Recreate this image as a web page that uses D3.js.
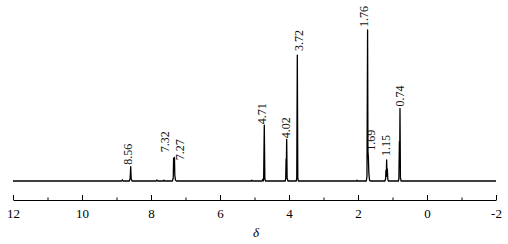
<!DOCTYPE html>
<html>
<head>
<meta charset="utf-8">
<script src="https://cdn.jsdelivr.net/npm/d3@7"></script>
<style>
  body { margin: 0; background: #fff; }
  svg { display: block; }
  text { font-family: "Times New Roman", "Liberation Serif", Times, serif; }
</style>
</head>
<body>
<script>
// spectrum trace: chemical shift (ppm) and intensity (tallest peak = 100)
var shift = [12.0, 9.0, 8.85, 8.83, 8.81, 8.63, 8.605, 8.588, 8.575, 8.55,
  7.85, 7.83, 7.81, 7.65, 7.63, 7.61,
  7.38, 7.355, 7.345, 7.335, 7.32, 7.31, 7.29, 7.26,
  5.1, 5.08, 5.06,
  4.78, 4.76, 4.745, 4.735, 4.716, 4.70, 4.68,
  4.11, 4.095, 4.085, 4.075, 4.067, 4.055, 4.03,
  3.79, 3.775, 3.759, 3.745, 3.73,
  2.05, 2.03, 2.01,
  1.76, 1.74, 1.722, 1.712, 1.70, 1.685, 1.665, 1.64,
  1.22, 1.20, 1.19, 1.18, 1.17, 1.16, 1.15, 1.135, 1.12,
  0.83, 0.815, 0.80, 0.79, 0.783, 0.77, 0.75,
  -2.0];
var intensity = [0, 0, 0, 0.8, 0, 0, 1.5, 9.5, 1.5, 0,
  0, 0.7, 0, 0, 0.6, 0,
  0, 2, 15.2, 8, 15.7, 4, 0.5, 0,
  0, 0.5, 0,
  0, 1.2, 0, 1.5, 37, 1.5, 0,
  0, 1.5, 14.5, 14, 27.6, 2, 0,
  0, 2, 83.4, 2, 0,
  0, 0.5, 0,
  0, 3, 100, 20, 16, 5, 0.5, 0,
  0, 1.5, 7, 3, 13.9, 4, 8, 1, 0,
  0, 1.5, 26, 20, 48, 2, 0,
  0];

// peak labels and the peak height each one sits over
var peakLabels = ["8.56", "7.32", "7.27", "4.71", "4.02", "3.72", "1.76", "1.69", "1.15", "0.74"];
var peakHeights = [9.5, 15.7, 15.7, 37, 27.6, 83.4, 100, 16, 13.9, 48];
// small hand nudges [dx, dy] so labels do not collide (pixels)
var labelNudge = [[-4, -1], [-9.5, -4], [4, 4], [-3, 0], [-3, 0], [0, -3], [-2, -2], [2, -5], [-2, -3], [-1.5, -1]];

var majorTicks = [12, 10, 8, 6, 4, 2, 0, -2];
var minorTicks = [11, 9, 7, 5, 3, 1, -1];

var width = 508, height = 244;

var svg = d3.select("body").append("svg")
    .attr("width", width)
    .attr("height", height);

var x = d3.scaleLinear().domain([12, -2]).range([13, 496]);
var y = d3.scaleLinear().domain([0, 100]).range([181, 30]);

// spectrum line
var line = d3.line()
  .x(function(d) { return x(d[0]); })
  .y(function(d) { return y(d[1]); });

svg.append("path")
  .datum(d3.zip(shift, intensity))
  .attr("d", line)
  .attr("fill", "none")
  .attr("stroke", "#000")
  .attr("stroke-width", 1.3)
  .attr("stroke-linejoin", "round");

// peak labels, rotated
svg.selectAll("text.peak")
  .data(peakLabels)
  .enter()
  .append("text")
  .attr("class", "peak")
  .attr("transform", function(d, i) {
    var px = x(+d) + labelNudge[i][0];
    var py = y(peakHeights[i]) - 1 + labelNudge[i][1];
    return "translate(" + px + "," + py + ") rotate(-90)";
  })
  .attr("dy", "0.35em")
  .style("font-size", "12px")
  .style("fill", "#111")
  .style("text-anchor", "start")
  .text(function(d) { return d; });

// bottom axis, ticks pointing up
var axisY = 200;
var xAxis = d3.axisBottom(x)
  .tickValues(majorTicks)
  .tickSizeInner(-5)
  .tickSizeOuter(0)
  .tickPadding(9)
  .tickFormat(function(d) { return String(d); });

var gx = svg.append("g")
  .attr("transform", "translate(0," + axisY + ")")
  .call(xAxis)
  .attr("font-family", null);
gx.selectAll("text")
  .style("font-size", "13px")
  .style("fill", "#000");
gx.selectAll("line, path").attr("stroke", "#000");

var minorAxis = d3.axisBottom(x)
  .tickValues(minorTicks)
  .tickSizeInner(-2.5)
  .tickSizeOuter(0)
  .tickFormat("");
var gm = svg.append("g")
  .attr("transform", "translate(0," + axisY + ")")
  .call(minorAxis);
gm.select(".domain").remove();
gm.selectAll("line").attr("stroke", "#000");

// axis title
svg.append("text")
  .attr("x", 256)
  .attr("y", 237)
  .style("font-style", "italic")
  .style("font-size", "13px")
  .style("text-anchor", "middle")
  .text("δ");
</script>
</body>
</html>
